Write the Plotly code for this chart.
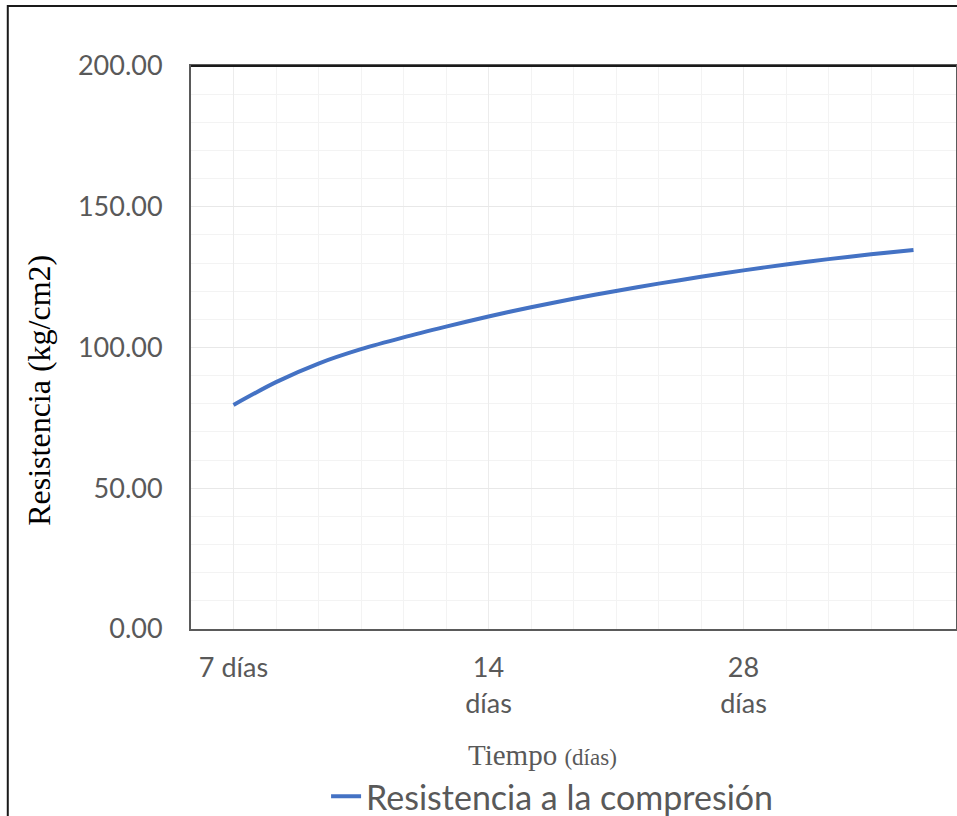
import plotly.graph_objects as go

# Data
x_pos = [1, 2, 3, 4, 5, 6, 7, 8, 9, 10, 11, 12, 13, 14, 15, 16, 17]
resistencia = [79.6, 87.7, 94.3, 99.4, 103.6, 107.4, 111.0, 114.3, 117.3,
               120.1, 122.7, 125.1, 127.4, 129.5, 131.4, 133.1, 134.6]
tick_positions = [1, 7, 13]
tick_labels = ["7 días", "14<br>días", "28<br>días"]
y_ticks = [0, 50, 100, 150, 200]
y_tick_labels = ["0.00", "50.00", "100.00", "150.00", "200.00"]

fig = go.Figure()
fig.add_trace(go.Scatter(
    x=x_pos, y=resistencia, mode="lines",
    name="Resistencia a la compresión",
    line=dict(color="#4472C4", width=4, shape="spline", smoothing=0.8),
))

fig.update_layout(
    width=957, height=816,
    margin=dict(l=191, r=1, t=66, b=187, autoexpand=False),
    paper_bgcolor="white", plot_bgcolor="white",
    font=dict(family="Lato, Carlito, sans-serif", color="#595959"),
    showlegend=True,
    legend=dict(orientation="h", x=0.472, xanchor="center", y=-0.298, yanchor="middle",
                font=dict(size=34, color="#595959", family="Lato, sans-serif"),
                bgcolor="rgba(0,0,0,0)"),
    xaxis=dict(range=[0, 18], tickmode="array", tickvals=tick_positions, ticktext=tick_labels,
               tickfont=dict(size=27, color="#595959"),
               showgrid=True, gridcolor="#ececec", gridwidth=1,
               minor=dict(tick0=0, dtick=1, showgrid=True, gridcolor="#f3f3f3", gridwidth=1),
               showline=True, linecolor="#5a5a5a", linewidth=2, mirror=True,
               ticks="", ticklabelstandoff=14, zeroline=False),
    yaxis=dict(range=[0, 200], tickmode="array", tickvals=y_ticks, ticktext=y_tick_labels,
               tickfont=dict(size=27, color="#595959"),
               showgrid=True, gridcolor="#e8e8e8", gridwidth=1,
               minor=dict(tick0=0, dtick=10, showgrid=True, gridcolor="#f3f3f3", gridwidth=1),
               showline=True, linecolor="#5a5a5a", linewidth=2, mirror=True,
               ticks="", ticklabelstandoff=21, zeroline=False),
)

# top border darker
fig.add_shape(type="line", xref="paper", yref="paper", x0=0, x1=1, y0=1, y1=1,
              line=dict(color="#1a1a1a", width=2))

# outer frame around the whole chart (partly cut by the image edges)
fig.add_shape(type="rect", xref="paper", yref="paper",
              x0=-0.2395, x1=1.02, y0=-0.36, y1=1.1066,
              line=dict(color="#1a1a1a", width=2), fillcolor="rgba(0,0,0,0)", layer="above")

fig.add_annotation(text="Resistencia (kg/cm2)", xref="paper", yref="paper",
                   x=-0.199, y=0.4245, textangle=-90, showarrow=False,
                   xanchor="center", yanchor="middle",
                   font=dict(family="Liberation Serif, Times New Roman, serif", size=32, color="black"))

fig.add_annotation(text="Tiempo <span style='font-size:23px'>(días)</span>", xref="paper", yref="paper",
                   x=0.4594, y=-0.2238, showarrow=False,
                   xanchor="center", yanchor="middle",
                   font=dict(family="Liberation Serif, Times New Roman, serif", size=29, color="#595959"))

fig.write_html("out.html")
